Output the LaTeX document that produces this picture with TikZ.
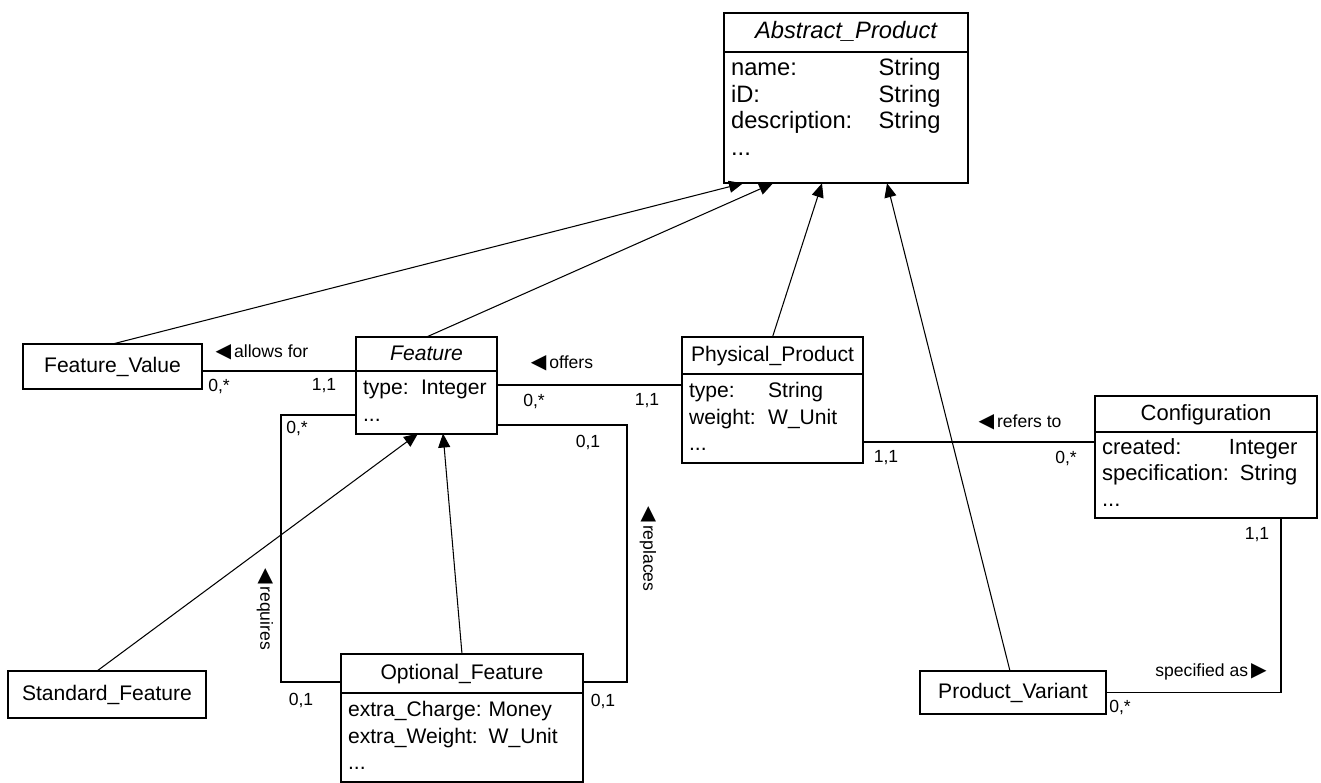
\documentclass[tikz,border=0pt]{standalone}
\usepackage{fontspec}
\setmainfont{Liberation Sans}
\newfontfamily\symfont{DejaVu Sans}
\usepackage{tikz}
\usetikzlibrary{positioning, arrows.meta}

\newcommand{\trileft}{{\symfont\fontsize{11.5}{12}\selectfont ◀}}
\newcommand{\triright}{{\symfont\fontsize{11.5}{12}\selectfont ▶}}

\begin{document}
\begin{tikzpicture}[
  x=0.02cm, y=-0.02cm,
  clshead/.style={draw, line width=1.1pt, font=\fontsize{12}{15.3}\selectfont, text height=9pt, text depth=2pt, inner sep=0pt, outer sep=0pt},
  clsbody/.style={draw, line width=1.1pt, font=\fontsize{12}{15.3}\selectfont, inner xsep=4pt, inner ysep=2.5pt, outer sep=0pt, align=left, minimum width=#1, text width=#1-8pt},
  assoc/.style={line width=1.1pt},
  gen/.style={line width=0.6pt, -{Triangle[length=0.28cm, width=0.24cm]}},
  mult/.style={font=\fontsize{10}{12}\selectfont, inner sep=0pt},
  lbl/.style={font=\fontsize{10}{12}\selectfont, inner sep=0pt}]

  \useasboundingbox (0,0) rectangle (1321,782);

  \node[clshead, minimum width=4.88cm, minimum height=0.78cm, font=\fontsize{13.5}{15.3}\selectfont\itshape] (aph) at (846,32.5) {Abstract\_Product};
  \node[clsbody=4.88cm, below=0pt of aph, font=\fontsize{13.5}{15.3}\selectfont, text depth=59pt] (apb) {\begin{tabular}[t]{@{}p{84pt}@{}l@{}}name: & String\\ iD: & String\\ description: & String\\ ... & \end{tabular}};

  \node[clshead, minimum width=2.82cm, minimum height=0.68cm, font=\fontsize{12}{15.3}\selectfont\itshape] (fh) at (426.5,354) {Feature};
  \node[clsbody=2.82cm, below=0pt of fh] (fb) {\begin{tabular}[t]{@{}p{33pt}@{}l@{}}type: & Integer\\ ... & \end{tabular}};

  \node[clshead, minimum width=3.62cm, minimum height=0.74cm] (pph) at (772.5,355.5) {Physical\_Product};
  \node[clsbody=3.62cm, below=0pt of pph] (ppb) {\begin{tabular}[t]{@{}p{45pt}@{}l@{}}type: & String\\ weight: & W\_Unit\\ ... & \end{tabular}};

  \node[clshead, minimum width=4.44cm, minimum height=0.72cm, font=\fontsize{12.5}{14.7}\selectfont] (ch) at (1206,414) {Configuration};
  \node[clsbody=4.44cm, below=0pt of ch, font=\fontsize{12.5}{14.7}\selectfont] (cb) {\begin{tabular}[t]{@{}l@{}r@{}}created: & Integer\\ \multicolumn{2}{@{}l@{}}{specification: String}\\ ... & \end{tabular}};

  \node[clshead, minimum width=4.84cm, minimum height=0.78cm] (ofh) at (462,673.5) {Optional\_Feature};
  \node[clsbody=4.84cm, below=0pt of ofh] (ofb) {\begin{tabular}[t]{@{}l@{\ }l@{}}extra\_Charge: & Money\\ extra\_Weight: & W\_Unit\\ ... & \end{tabular}};

  \node[clshead, minimum width=3.58cm, minimum height=0.9cm] (fv) at (112.5,366.5) {Feature\_Value};
  \node[clshead, minimum width=3.96cm, minimum height=0.94cm] (sf) at (107,694.5) {Standard\_Feature};
  \node[clshead, minimum width=3.72cm, minimum height=0.86cm] (pv) at (1013,692.5) {Product\_Variant};

  \coordinate (offersA) at ([yshift=-0.28cm]fb.north east);
  \coordinate (refersA) at ([yshift=-0.2cm]cb.north west);

  \draw[gen] (fv.north) -- ([xshift=0.38cm]apb.south west);
  \draw[gen] (fh.north) -- ([xshift=0.98cm]apb.south west);
  \draw[gen] (pph.north) -- ([xshift=1.96cm]apb.south west);
  \draw[gen] ([xshift=-0.06cm]pv.north) -- ([xshift=3.26cm]apb.south west);
  \draw[gen] ([xshift=-0.2cm]sf.north) -- ([xshift=1.24cm]fb.south west);
  \draw[gen] (ofh.north) -- ([xshift=1.74cm]fb.south west);

  \draw[assoc] (fb.north west) -- (fb.north west -| fv.east);
  \draw[assoc] (offersA) -- (offersA -| pph.west);
  \draw[assoc] (refersA) -- (refersA -| ppb.east);
  \draw[assoc] (pv.east) -| ([xshift=1.5cm]cb.south);
  \draw[assoc] ([yshift=-0.25cm]fb.west) -- ++(-1.5cm,0) |- ([yshift=-0.17cm]ofh.west);
  \draw[assoc] ([yshift=-0.45cm]fb.east) -- ++(2.6cm,0) |- ([yshift=-0.17cm]ofh.east);

  \node[lbl] (allows) at (262,352) {\trileft\,allows for};
  \node[lbl] (offers) at (562,363) {\trileft\,offers};
  \node[lbl] (refers) at (1020,422) {\trileft\,refers to};
  \node[lbl] (specified) at (1211,672) {specified as\,\triright};
  \node[lbl, rotate=-90] (requires) at (265,609) {\trileft\,requires};
  \node[lbl, rotate=-90] (replaces) at (648,549) {\trileft\,replaces};

  \node[mult] (m1) at (219,386) {0,*};
  \node[mult] (m2) at (324,386) {1,1};
  \node[mult] (m3) at (534,401) {0,*};
  \node[mult] (m4) at (647,401) {1,1};
  \node[mult] (m5) at (297,428) {0,*};
  \node[mult] (m6) at (301,700) {0,1};
  \node[mult] (m7) at (588,442) {0,1};
  \node[mult] (m8) at (603,701) {0,1};
  \node[mult] (m9) at (886,458) {1,1};
  \node[mult] (m10) at (1066,458) {0,*};
  \node[mult] (m11) at (1257,535) {1,1};
  \node[mult] (m12) at (1120,707) {0,*};
\end{tikzpicture}
\end{document}
